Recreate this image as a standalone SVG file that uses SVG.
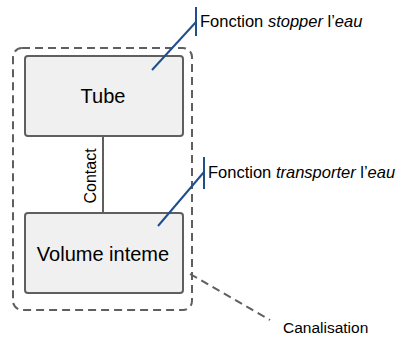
<svg xmlns="http://www.w3.org/2000/svg" width="405" height="338" viewBox="0 0 405 338">
<style>
.node{fill:#f0f0f0;stroke:#5f5f5f;stroke-width:2}
.t{font-family:"Liberation Sans",Arial,sans-serif;fill:#000}
.call{stroke:#1f4e8c;stroke-width:2;fill:none}
.dash{stroke:#5f5f5f;stroke-width:2;fill:none;stroke-dasharray:8,5}
</style>
<rect x="13" y="48" width="179" height="262" rx="9" class="dash"/>
<g id="connectors">
<line x1="103" y1="136" x2="103" y2="213" stroke="#5f5f5f" stroke-width="2"/>
<text class="t" font-size="16" transform="translate(96,176) rotate(-90)" text-anchor="middle">Contact</text>
<line x1="190" y1="274" x2="270" y2="320" class="dash"/>
</g>
<g id="tube">
<rect x="25" y="56" width="158" height="80" rx="3" class="node"/>
<text class="t" x="103" y="103" font-size="20" text-anchor="middle">Tube</text>
</g>
<g id="volume">
<rect x="25" y="213" width="158" height="80" rx="3" class="node"/>
<text class="t" x="103" y="261" font-size="20" text-anchor="middle">Volume inteme</text>
</g>
<g id="callout1">
<line x1="196" y1="7" x2="196" y2="36" class="call"/>
<line x1="196" y1="22" x2="152" y2="70" class="call"/>
<text class="t" x="200" y="27" font-size="16.5">Fonction <tspan font-style="italic">stopper</tspan> l’<tspan font-style="italic">eau</tspan></text>
</g>
<g id="callout2">
<line x1="204" y1="157" x2="204" y2="189" class="call"/>
<line x1="204" y1="172" x2="158" y2="226" class="call"/>
<text class="t" x="208" y="178" font-size="16.5">Fonction <tspan font-style="italic">transporter</tspan> l’<tspan font-style="italic">eau</tspan></text>
</g>
<g id="canalisation">
<text class="t" x="283" y="333" font-size="15.5">Canalisation</text>
</g>
</svg>
